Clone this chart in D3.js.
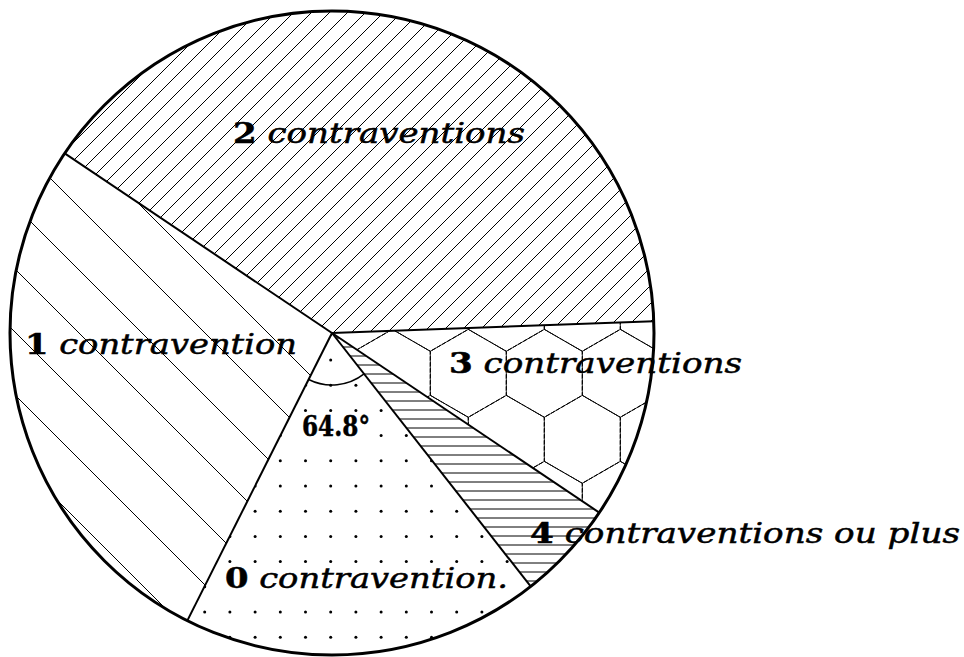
<!DOCTYPE html>
<html>
<head>
<meta charset="utf-8">
<script src="https://cdn.jsdelivr.net/npm/d3@7"></script>
<style>
  body { margin: 0; background: #fff; }
  text { font-family: "DejaVu Serif", serif; font-size: 28px; fill: #000; stroke: #000; stroke-width: 0.5px; }
</style>
</head>
<body>
<script>
let w = 964;
let h = 657;
let cx = 332, cy = 333, r = 322;

// data
let categories = ["0 contravention.", "1 contravention", "2 contraventions", "3 contraventions", "4 contraventions ou plus"];
let percents = [18, 27, 40, 10, 5];
let angleLabel = "64.8°";

// label placement (x start, baseline, width)
let labelPos = [
  [225, 588, 283],
  [25, 354, 272],
  [233, 143, 292],
  [449, 373, 293],
  [530, 543, 430]
];

let startAngle = 141.9 * Math.PI / 180;

let pie = d3.pie()
  .sort(null)
  .value((d) => d)
  .startAngle(startAngle)
  .endAngle(startAngle + 2 * Math.PI);

let arcs = pie(percents);

let arc = d3.arc().innerRadius(0).outerRadius(r);

let svg = d3.select("body")
  .append("svg")
  .attr("width", w)
  .attr("height", h);

let defs = svg.append("defs");

defs.selectAll("clipPath")
  .data(arcs)
  .enter()
  .append("clipPath")
  .attr("id", (d, i) => "clip" + i)
  .append("path")
  .attr("transform", "translate(" + cx + "," + cy + ")")
  .attr("d", arc);

let fills = svg.selectAll("g.fill")
  .data(arcs)
  .enter()
  .append("g")
  .attr("class", "fill")
  .attr("clip-path", (d, i) => "url(#clip" + i + ")");

// 0: dots
(function() {
  let g = fills.filter((d, i) => i == 0);
  let pts = [];
  for (let i = -14; i <= 14; i++) {
    for (let j = -14; j <= 14; j++) {
      pts.push([330.7 + 25.2 * i, 334.8 + 25.2 * j]);
    }
  }
  g.selectAll("circle")
    .data(pts)
    .enter()
    .append("circle")
    .attr("cx", (d) => d[0])
    .attr("cy", (d) => d[1])
    .attr("r", 1.5)
    .attr("fill", "#000");
})();

// 1: wide back-diagonal lines
(function() {
  let g = fills.filter((d, i) => i == 1);
  let cs = d3.range(-2 - 63 * 12, w, 63);
  g.selectAll("line")
    .data(cs)
    .enter()
    .append("line")
    .attr("x1", (c) => c)
    .attr("y1", 0)
    .attr("x2", (c) => c + h)
    .attr("y2", h)
    .attr("stroke", "#000")
    .attr("stroke-width", 1);
})();

// 2: dense forward-diagonal lines
(function() {
  let g = fills.filter((d, i) => i == 2);
  let cs = d3.range(0, w + h, 18);
  g.selectAll("line")
    .data(cs)
    .enter()
    .append("line")
    .attr("x1", (c) => c)
    .attr("y1", 0)
    .attr("x2", (c) => c - h)
    .attr("y2", h)
    .attr("stroke", "#000")
    .attr("stroke-width", 1);
})();

// 3: honeycomb
(function() {
  let g = fills.filter((d, i) => i == 3);
  let s = 44, hw = 38, hexes = [];
  for (let j = -3; j <= 4; j++) {
    for (let i = -3; i <= 4; i++) {
      hexes.push([468.3 + 2 * hw * i + (Math.abs(j) % 2 ? hw : 0), 373.3 + 66 * j]);
    }
  }
  let hexPath = (c) => {
    let p = d3.path();
    for (let k = 0; k < 6; k++) {
      let a = (-90 + 60 * k) * Math.PI / 180;
      let x = c[0] + s * Math.cos(a), y = c[1] + s * Math.sin(a);
      if (k == 0) p.moveTo(x, y); else p.lineTo(x, y);
    }
    p.closePath();
    return p.toString();
  };
  g.selectAll("path")
    .data(hexes)
    .enter()
    .append("path")
    .attr("d", hexPath)
    .attr("fill", "none")
    .attr("stroke", "#000")
    .attr("stroke-width", 1)
    .attr("stroke-dasharray", "5 1");
})();

// 4: horizontal lines
(function() {
  let g = fills.filter((d, i) => i == 4);
  let ys = d3.range(419 - 9 * 20, h, 9);
  g.selectAll("line")
    .data(ys)
    .enter()
    .append("line")
    .attr("x1", 0)
    .attr("y1", (y) => y)
    .attr("x2", w)
    .attr("y2", (y) => y)
    .attr("stroke", "#000")
    .attr("stroke-width", 1);
})();

let pieG = svg.append("g")
  .attr("transform", "translate(" + cx + "," + cy + ")");

// slice boundaries
pieG.selectAll("line.edge")
  .data(arcs)
  .enter()
  .append("line")
  .attr("class", "edge")
  .attr("x1", 0)
  .attr("y1", 0)
  .attr("x2", (d) => r * Math.sin(d.startAngle))
  .attr("y2", (d) => -r * Math.cos(d.startAngle))
  .attr("stroke", "#000")
  .attr("stroke-width", 2);

pieG.append("circle")
  .attr("r", r)
  .attr("fill", "none")
  .attr("stroke", "#000")
  .attr("stroke-width", 3);

// angle mark on the 0 slice
pieG.append("path")
  .attr("d", d3.arc()
    .innerRadius(52)
    .outerRadius(52)
    .startAngle(arcs[0].startAngle)
    .endAngle(arcs[0].endAngle)())
  .attr("fill", "none")
  .attr("stroke", "#000")
  .attr("stroke-width", 1.5);

// labels
let labels = svg.selectAll("text.lab")
  .data(categories)
  .enter()
  .append("text")
  .attr("class", "lab")
  .attr("x", (d, i) => labelPos[i][0])
  .attr("y", (d, i) => labelPos[i][1])
  .attr("textLength", (d, i) => labelPos[i][2])
  .attr("lengthAdjust", "spacingAndGlyphs");

labels.append("tspan")
  .attr("font-weight", "bold")
  .text((d) => d.split(" ")[0]);
labels.append("tspan")
  .attr("font-style", "italic")
  .text((d) => " " + d.split(" ").slice(1).join(" "));

let angText = svg.append("text")
  .attr("x", 302)
  .attr("y", 436)
  .attr("font-weight", "bold")
  .attr("textLength", 68)
  .attr("lengthAdjust", "spacingAndGlyphs")
  .text(angleLabel);

// clear dots behind the labels that sit on the dotted slice
[labels.filter((d, i) => i == 0).node(), angText.node()].forEach((n) => {
  let b = n.getBBox();
  svg.insert("rect", "g")
    .attr("x", b.x - 2)
    .attr("y", b.y + 4)
    .attr("width", b.width + 4)
    .attr("height", b.height - 6)
    .attr("fill", "#fff");
});
svg.selectAll("rect").each(function() {
  // move the clearing rects just above the fills
  this.parentNode.insertBefore(this, pieG.node());
});
</script>
</body>
</html>
